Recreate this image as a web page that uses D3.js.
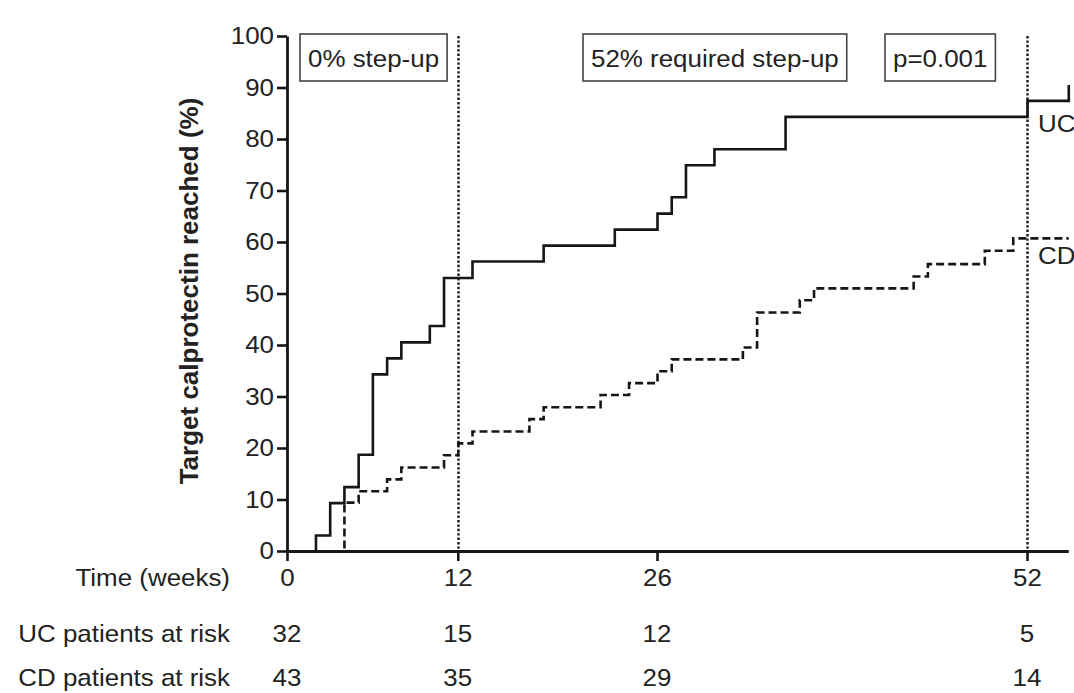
<!DOCTYPE html>
<html>
<head>
<meta charset="utf-8">
<script src="https://cdn.jsdelivr.net/npm/d3@7"></script>
<style>
  html, body { margin: 0; padding: 0; background: #fff; }
  svg { display: block; }
  text { font-family: "Liberation Sans", Arial, Helvetica, sans-serif; fill: #222; }
</style>
</head>
<body>
<svg id="chart" width="1074" height="693"></svg>
<script>
// ---- data ----
const tickWeeks = [0, 12, 26, 52];
const yTicks = [0, 10, 20, 30, 40, 50, 60, 70, 80, 90, 100];
const ucWeeks = [0, 2, 3, 4, 5, 6, 7, 8, 10, 11, 13, 18, 23, 26, 27, 28, 30, 35, 52, 54.9];
const ucPct   = [0, 3.1, 9.4, 12.5, 18.8, 34.4, 37.5, 40.6, 43.8, 53.1, 56.3, 59.4, 62.5, 65.6, 68.8, 75.0, 78.1, 84.4, 87.5, 90.6];
const cdWeeks = [0, 4, 5, 7, 8, 11, 12, 13, 17, 18, 22, 24, 26, 27, 32, 33, 36, 37, 44, 45, 49, 51, 54.9];
const cdPct   = [0, 9.5, 11.7, 14.0, 16.3, 18.7, 21.0, 23.3, 25.7, 28.0, 30.4, 32.7, 35.0, 37.3, 39.6, 46.4, 48.8, 51.1, 53.4, 55.8, 58.4, 60.8, 60.8];
const refWeeks = [12, 52];
const ucAtRisk = [32, 15, 12, 5];
const cdAtRisk = [43, 35, 29, 14];
const boxLabels = ["0% step-up", "52% required step-up", "p=0.001"];
const seriesLabels = ["UC", "CD"];
const rowLabels = ["Time (weeks)", "UC patients at risk", "CD patients at risk"];
const yTitle = "Target calprotectin reached (%)";

// ---- layout ----
const svg = d3.select("#chart");
const x = d3.scaleLinear().domain([0, 52]).range([287, 1027]);
const y = d3.scaleLinear().domain([0, 100]).range([551, 36]);
const xMax = 54.9;
const FS = 24, SX = 1.08;
const ink = "#161616";

function htext(g, str, px, py, anchor, size, weight) {
  return g.append("text")
    .attr("transform", `translate(${px},${py}) scale(${SX},1)`)
    .attr("text-anchor", anchor || "start")
    .style("font-size", (size || FS) + "px")
    .style("font-weight", weight || "normal")
    .text(str);
}

// reference dotted lines
svg.append("g").selectAll("line").data(refWeeks).join("line")
  .attr("x1", d => Math.round(x(d)) + 0.5).attr("x2", d => Math.round(x(d)) + 0.5)
  .attr("y1", y(100)).attr("y2", y(0))
  .attr("stroke", ink).attr("stroke-width", 2.4)
  .attr("stroke-dasharray", "2.4,2");

// step curves (aligned with the axis half-pixel offset)
const line = d3.line().x(d => x(d[0])).y(d => y(d[1])).curve(d3.curveStepAfter);
const ucData = ucWeeks.map((w, i) => [w, ucPct[i]]);
const cdData = cdWeeks.map((w, i) => [w, cdPct[i]]);
const curves = svg.append("g").attr("transform", "translate(0.5,0.5)");
curves.append("path").datum(cdData).attr("d", line)
  .attr("fill", "none").attr("stroke", ink).attr("stroke-width", 2.6)
  .attr("stroke-dasharray", "8,4");
curves.append("path").datum(ucData).attr("d", line)
  .attr("fill", "none").attr("stroke", ink).attr("stroke-width", 2.6);

// axes (on top)
const yAxis = svg.append("g").attr("transform", `translate(${x(0)},0)`)
  .call(d3.axisLeft(y).tickValues(yTicks).tickSize(10).tickSizeOuter(0).tickPadding(3));
const xAxis = svg.append("g").attr("transform", `translate(0,${y(0)})`)
  .call(d3.axisBottom(d3.scaleLinear().domain([0, xMax]).range([x(0), x(xMax)]))
    .tickValues(tickWeeks).tickSize(10).tickSizeOuter(0).tickPadding(8));
[yAxis, xAxis].forEach(a => {
  a.select(".domain").attr("stroke", ink).attr("stroke-width", 2.8);
  a.selectAll(".tick line").attr("stroke", ink).attr("stroke-width", 2.6);
  a.selectAll(".tick text").style("font-size", FS + "px")
    .style("font-family", '"Liberation Sans", Arial, sans-serif').attr("fill", "#222");
});
yAxis.selectAll(".tick text").attr("transform", `scale(${SX},1)`).attr("x", -13 / SX);
xAxis.selectAll(".tick text").attr("transform", `scale(${SX},1)`);

// series labels
const lab = svg.append("g");
htext(lab, seriesLabels[0], 1038, 132, "start");
htext(lab, seriesLabels[1], 1038, 264, "start");

// annotation boxes
const boxLefts = [300, 583, 885];
const boxG = svg.append("g");
boxLabels.forEach((s, i) => {
  const t = htext(boxG, s, boxLefts[i] + 8, 67, "start");
  const w = t.node().getBBox().width * SX;
  boxG.insert("rect", "text")
    .attr("x", boxLefts[i]).attr("y", 34)
    .attr("width", w + 16).attr("height", 47)
    .attr("fill", "#fff").attr("stroke", "#444").attr("stroke-width", 1.6);
});

// y title
svg.append("text")
  .attr("transform", "translate(198,291) rotate(-90)")
  .attr("text-anchor", "middle")
  .style("font-size", "26px").style("font-weight", "bold")
  .text(yTitle);

// risk table
const tbl = svg.append("g");
const rowY = [586, 642, 686];
htext(tbl, rowLabels[0], 230, rowY[0], "end");
htext(tbl, rowLabels[1], 230, rowY[1], "end");
htext(tbl, rowLabels[2], 230, rowY[2], "end");
tickWeeks.forEach((w, i) => {
  htext(tbl, String(ucAtRisk[i]), x(w), rowY[1], "middle");
  htext(tbl, String(cdAtRisk[i]), x(w), rowY[2], "middle");
});
</script>
</body>
</html>
